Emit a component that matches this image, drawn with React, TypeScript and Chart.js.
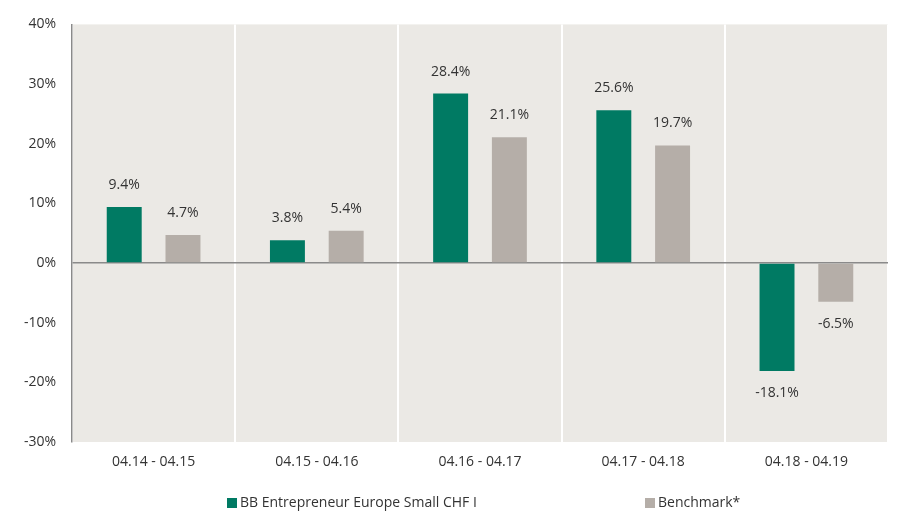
import React, { useEffect, useRef } from "react";
import { Chart, registerables } from "chart.js";

Chart.register(...registerables);

const categories = ["04.14 - 04.15", "04.15 - 04.16", "04.16 - 04.17", "04.17 - 04.18", "04.18 - 04.19"];
const fundValues = [9.4, 3.8, 28.4, 25.6, -18.1];
const benchmarkValues = [4.7, 5.4, 21.1, 19.7, -6.5];
const fundLabel = "BB Entrepreneur Europe Small CHF I";
const benchmarkLabel = "Benchmark*";

const FONT = "'Open Sans', 'Noto Sans', sans-serif";
const GREEN = "#007A63";
const GREY = "#B5AEA8";
const TEXT = "#333333";

const bgPlugin = {
  id: "plotBg",
  beforeDraw(chart: any) {
    const { ctx, chartArea } = chart;
    ctx.save();
    ctx.fillStyle = "#EBE9E5";
    ctx.fillRect(chartArea.left, chartArea.top, chartArea.right - chartArea.left, chartArea.bottom - chartArea.top);
    ctx.restore();
  },
};

const labelPlugin = {
  id: "valueLabels",
  afterDatasetsDraw(chart: any) {
    const { ctx } = chart;
    ctx.save();
    ctx.font = `14px ${FONT}`;
    ctx.fillStyle = TEXT;
    ctx.textAlign = "center";
    ctx.textBaseline = "middle";
    chart.data.datasets.forEach((ds: any, di: number) => {
      const meta = chart.getDatasetMeta(di);
      meta.data.forEach((bar: any, i: number) => {
        const v = ds.data[i];
        const y = v >= 0 ? bar.y - 22 : bar.y + 22;
        ctx.fillText(v.toFixed(1) + "%", bar.x, y);
      });
    });
    ctx.restore();
  },
};

const legendPlugin = {
  id: "customLegend",
  afterDraw(chart: any) {
    const { ctx } = chart;
    ctx.save();
    ctx.font = `14px ${FONT}`;
    ctx.textBaseline = "middle";
    ctx.textAlign = "left";
    const y = 503;
    const items = [
      { x: 227, color: GREEN, text: fundLabel },
      { x: 645, color: GREY, text: benchmarkLabel },
    ];
    items.forEach((it) => {
      ctx.fillStyle = it.color;
      ctx.fillRect(it.x, y - 5, 10, 10);
      ctx.fillStyle = TEXT;
      ctx.fillText(it.text, it.x + 13, y);
    });
    ctx.restore();
  },
};

export default function App() {
  const ref = useRef<HTMLCanvasElement>(null);
  useEffect(() => {
    document.body.style.margin = "0";
    const chart = new Chart(ref.current!, {
      type: "bar",
      data: {
        labels: categories,
        datasets: [
          { label: fundLabel, data: fundValues, backgroundColor: GREEN, categoryPercentage: 0.72, barPercentage: 0.595 },
          { label: benchmarkLabel, data: benchmarkValues, backgroundColor: GREY, categoryPercentage: 0.72, barPercentage: 0.595 },
        ],
      },
      options: {
        animation: false,
        responsive: false,
        layout: { padding: { top: 22, right: 29, left: 0, bottom: 0 } },
        plugins: { legend: { display: false }, tooltip: { enabled: false } },
        scales: {
          x: {
            grid: { display: true, offset: true, color: "#FFFFFF", lineWidth: 2, drawTicks: false },
            border: { display: false },
            ticks: { color: TEXT, font: { family: FONT, size: 14 }, padding: 12 },
            afterFit(scale: any) {
              scale.height = 71;
            },
          },
          y: {
            min: -30,
            max: 40,
            ticks: {
              stepSize: 10,
              color: TEXT,
              font: { family: FONT, size: 14 },
              padding: 16,
              callback: (v: any) => v + "%",
            },
            grid: {
              drawTicks: false,
              color: (c: any) => (c.tick && c.tick.value === 0 ? "#8A8A8A" : "rgba(0,0,0,0)"),
              lineWidth: 1.5,
            },
            border: { display: true, color: "#8A8A8A", width: 1.5 },
            afterFit(scale: any) {
              scale.width = 72;
            },
          },
        },
      },
      plugins: [bgPlugin, labelPlugin, legendPlugin],
    });
    return () => chart.destroy();
  }, []);
  return <canvas ref={ref} width={917} height={513} style={{ display: "block" }} />;
}
